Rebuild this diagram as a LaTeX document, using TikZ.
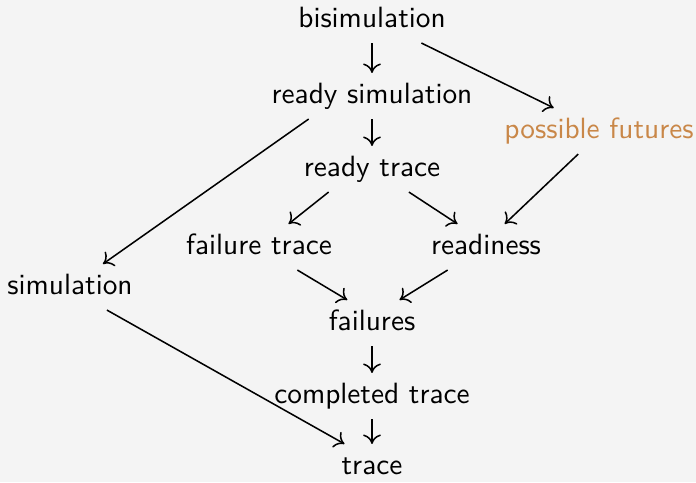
\documentclass[tikz,border=0pt]{standalone}
\usepackage{tikz}
\usetikzlibrary{arrows.meta}
\definecolor{bgcol}{RGB}{244,244,244}
\definecolor{pfcol}{RGB}{201,135,72}

\begin{document}
\begin{tikzpicture}[x=0.36pt,y=-0.36pt]
      \tikzset{
        every node/.style={font=\sffamily\fontsize{10.55pt}{13pt}\selectfont,inner sep=3.5pt,text height=7.2pt,text depth=2pt},
        every edge/.style={draw,-{Computer Modern Rightarrow[length=3.4pt,width=6.4pt]},line width=0.55pt}
      }
      \fill[bgcol] (0,0) rectangle (696,482);
      \useasboundingbox (0,0) rectangle (696,482);

      \node (bisim) at (372,20) {bisimulation};
      \node (rsim) at (372,96) {ready simulation};
      \node[text=pfcol] (pf) at (599,131) {possible futures};
      \node (rtrace) at (372,169) {ready trace};
      \node (ftrace) at (259,247) {failure trace};
      \node (rdy) at (486,247) {readiness};
      \node (sim) at (70,287) {simulation};
      \node (fail) at (372,323) {failures};
      \node (ctrace) at (372,396) {completed trace};
      \node (trace) at (372,467) {trace};

      \draw (bisim.south) edge[] (rsim.north)
            (bisim.-25) edge[] (pf.153)
            (rsim.south) edge[] (rtrace.north)
            (rsim.200) edge[] (sim.35)
            (rtrace.208) edge[] (ftrace.38)
            (rtrace.328) edge[] (rdy.141)
            (pf.228) edge[] (rdy.51)
            (ftrace.329) edge[] (fail.137)
            (rdy.211) edge[] (fail.40)
            (fail.south) edge[] (ctrace.north)
            (ctrace.south) edge[] (trace.north)
            (sim.-32) edge[] (trace.140);
    \end{tikzpicture}
\end{document}
